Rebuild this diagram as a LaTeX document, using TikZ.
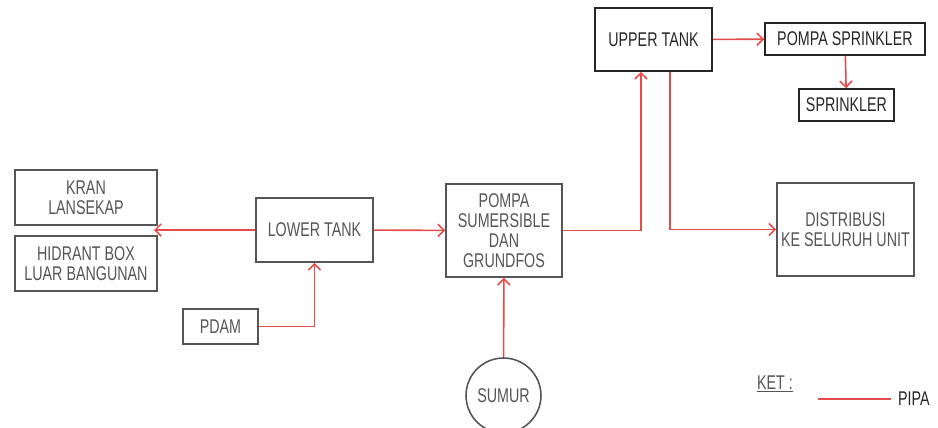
\documentclass[tikz,border=0pt]{standalone}
\usepackage{fontspec}
\setmainfont{Liberation Sans}[FakeStretch=0.72]
\usepackage{xcolor}
\usetikzlibrary{arrows.meta, positioning}

\definecolor{pipered}{RGB}{228,76,76}
\definecolor{boxgray}{RGB}{85,85,85}

\begin{document}
\begin{tikzpicture}[
    x=0.02cm, y=-0.02cm,
    box/.style={rectangle, draw=boxgray, line width=0.9pt, text=boxgray, inner sep=1pt, align=center, font=\fontsize{11.3}{11.5}\selectfont},
    darkbox/.style={box, draw=black!85, text=black!85},
    pipe/.style={draw=pipered, line width=0.9pt},
    arrow/.style={pipe, -{Straight Barb[length=3.5pt, width=7pt]}}
]
\useasboundingbox (0,0) rectangle (938,427);

\node[box, minimum width=2.84cm, minimum height=1.1cm] (kran) at (86,197.5) {KRAN\\LANSEKAP};
\node[box, minimum width=2.84cm, minimum height=1.1cm] (hidrant) at (86,263.5) {HIDRANT BOX\\LUAR BANGUNAN};
\node[box, minimum width=2.34cm, minimum height=1.28cm] (lower) at (314.5,230) {LOWER TANK};
\node[box, minimum width=1.5cm, minimum height=0.7cm] (pdam) at (220.5,326.5) {PDAM};
\node[box, minimum width=2.32cm, minimum height=1.86cm] (pompa) at (504,230.5) {POMPA\\SUMERSIBLE\\DAN\\GRUNDFOS};
\node[box, circle, minimum size=1.5cm] (sumur) at (503.5,395.5) {SUMUR};
\node[darkbox, minimum width=2.34cm, minimum height=1.26cm] (upper) at (653.5,39.5) {UPPER TANK};
\node[darkbox, minimum width=3.2cm, minimum height=0.64cm] (psprinkler) at (845,39) {POMPA SPRINKLER};
\node[darkbox, minimum width=1.9cm, minimum height=0.64cm] (sprinkler) at (846.5,105) {SPRINKLER};
\node[box, minimum width=2.74cm, minimum height=1.86cm] (distribusi) at (845.5,229.5) {DISTRIBUSI\\KE SELURUH UNIT};

\coordinate (split) at (154,230);

\draw[arrow] (lower) -- (split);
\draw[arrow] (lower) -- (pompa);
\draw[arrow] (pdam) -| (lower);
\draw[arrow] (sumur) -- (pompa);
\draw[arrow] (pompa) -| ([xshift=-0.25cm]upper.south);
\draw[arrow] ([xshift=0.33cm]upper.south) |- (distribusi);
\draw[arrow] (upper) -- (psprinkler);
\draw[arrow] (psprinkler) -- (sprinkler);

% keterangan
\node[anchor=west, text=boxgray, inner sep=1pt, font=\fontsize{11.3}{11.5}\selectfont] (ket) at (755,384) {\underline{KET :}};
\node[anchor=west, text=black!85, inner sep=1pt, font=\fontsize{11.3}{11.5}\selectfont] (pipa) at (896,399) {PIPA};
\coordinate (pipastart) at (818,399);
\draw[pipe] (pipastart) -- ([xshift=-0.1cm]pipa.west);

\end{tikzpicture}
\end{document}
